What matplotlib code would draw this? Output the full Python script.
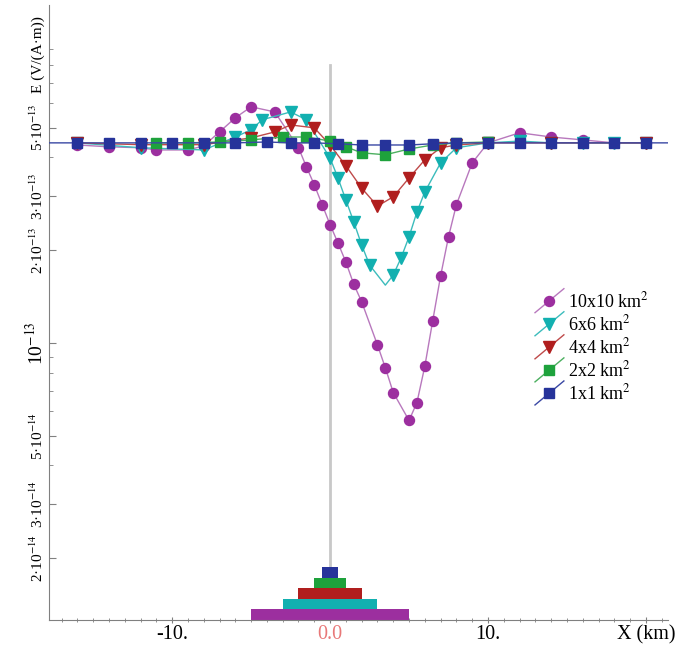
import matplotlib
matplotlib.use('Agg')
import matplotlib.pyplot as plt
from matplotlib.lines import Line2D
from matplotlib.patches import Rectangle
from matplotlib.legend_handler import HandlerBase

plt.rcParams['font.family'] = ['Liberation Serif', 'DejaVu Serif']
plt.rcParams['mathtext.fontset'] = 'stix'

# x in km, E in units of 1e-13 V/(A*m)
x_10 = [-16, -14, -12, -11, -9, -8, -7, -6, -5, -3.5, -2, -1.5, -1, -0.5, 0, 0.5, 1, 1.5, 2,
        3, 3.5, 4, 5, 5.5, 6, 6.5, 7, 7.5, 8, 9, 10, 12, 14, 16, 18, 20]
E_10 = [4.39, 4.33, 4.30, 4.23, 4.23, 4.36, 4.84, 5.38, 5.84, 5.62, 4.30, 3.73, 3.26, 2.81, 2.42,
        2.11, 1.83, 1.55, 1.36, 0.985, 0.83, 0.69, 0.56, 0.64, 0.84, 1.18, 1.65, 2.21, 2.81, 3.84,
        4.46, 4.81, 4.66, 4.56, 4.46, 4.46]

x_6 = [-16, -12, -8, -6, -5, -4.3, -2.5, -1.5, 0, 0.5, 1, 1.5, 2, 2.5, 3.5, 4, 4.5, 5, 5.5, 6,
       7, 8, 10, 12, 14, 16, 18, 20]
E_6 = [4.46, 4.30, 4.23, 4.66, 4.92, 5.30, 5.62, 5.30, 3.98, 3.43, 2.91, 2.47, 2.08, 1.79, 1.54,
       1.66, 1.89, 2.21, 2.66, 3.09, 3.84, 4.30, 4.46, 4.52, 4.46, 4.46, 4.46, 4.46]
nomark_6 = [3.5]

x_4 = [-16, -12, -8, -5, -3.5, -2.5, -1, 0, 1, 2, 3, 4, 5, 6, 7, 8, 10, 14, 20]
E_4 = [4.46, 4.40, 4.40, 4.63, 4.84, 5.10, 4.99, 4.39, 3.76, 3.18, 2.78, 2.98, 3.43, 3.93, 4.30,
       4.39, 4.46, 4.46, 4.46]

x_2 = [-11, -9, -7, -5, -3, -1.5, 0, 1, 2, 3.5, 5, 6.5, 8, 10]
E_2 = [4.46, 4.46, 4.49, 4.56, 4.66, 4.66, 4.52, 4.33, 4.14, 4.08, 4.26, 4.39, 4.46, 4.49]

x_1 = [-17.8, -16, -14, -12, -10, -8, -6, -4, -2.5, -1, 0.5, 2, 3.5, 5, 6.5, 8, 10, 12, 14, 16,
       18, 20, 21.4]
E_1 = [4.46, 4.46, 4.46, 4.46, 4.46, 4.46, 4.46, 4.49, 4.46, 4.46, 4.43, 4.39, 4.39, 4.39, 4.43,
       4.46, 4.46, 4.46, 4.46, 4.46, 4.46, 4.46, 4.46]
nomark_1 = [-17.8, 21.4]

sizes = [10, 6, 4, 2, 1]
labels = ['10x10 km$^2$', '6x6 km$^2$', '4x4 km$^2$', '2x2 km$^2$', '1x1 km$^2$']
colors = ['#9c2f9f', '#12b0b0', '#b01e1e', '#1ea23c', '#26339a']
line_colors = ['#b878bd', '#3cbcbc', '#bf4a4a', '#4cb060', '#3a48a4']
markers = ['o', 'v', 'v', 's', 's']
msizes = [7.2, 8.2, 8.2, 6.8, 6.8]

series = [(x_10, E_10, []), (x_6, E_6, nomark_6), (x_4, E_4, []), (x_2, E_2, []), (x_1, E_1, nomark_1)]

yticks = [0.2, 0.3, 0.5, 1, 2, 3, 5]
ytick_labels = ['2·10$^{-14}$', '3·10$^{-14}$', '5·10$^{-14}$', '10$^{-13}$',
                '2·10$^{-13}$', '3·10$^{-13}$', '5·10$^{-13}$']


class DiagHandler(HandlerBase):
    def create_artists(self, legend, orig, xdescent, ydescent, width, height, fontsize, trans):
        x0 = -xdescent
        y0 = -ydescent
        ln = Line2D([x0, x0 + width], [y0 - 0.45 * height, y0 + 1.45 * height],
                    color=orig.get_color(), lw=1)
        mk = Line2D([x0 + width / 2], [y0 + height / 2], marker=orig.get_marker(),
                    ms=orig.get_markersize(), color=orig.get_markerfacecolor(), ls='none')
        ln.set_transform(trans)
        mk.set_transform(trans)
        return [ln, mk]


fig = plt.figure(figsize=(6.8, 6.46), dpi=100)
ax = fig.add_axes([49 / 680, 26 / 646, 619 / 680, 615 / 646])
ax.set_yscale('log')
ax.set_xlim(-17.8, 21.4)
ax.set_ylim(0.126, 12.5)

ax.axvline(0, ymin=0, ymax=0.902, color='#c8c8c8', lw=2, zorder=1)

handles = []
for i, (xs, es, nomark) in enumerate(series):
    keep = [j for j, v in enumerate(xs) if v not in nomark]
    h, = ax.plot(xs, es, color=line_colors[i], lw=1, marker=markers[i], ms=msizes[i],
                 mfc=colors[i], mec=colors[i], markevery=keep, zorder=3 + i, label=labels[i])
    handles.append(h)

# source bodies drawn as stacked blocks above the x axis
row_h = 0.0172
for i, s in enumerate(sizes):
    ax.add_patch(Rectangle((-s / 2, i * row_h), s, row_h, transform=ax.get_xaxis_transform(),
                           facecolor=colors[i], edgecolor='none', zorder=2))

ax.legend(handles=handles, handler_map={Line2D: DiagHandler()}, frameon=False,
          loc='upper left', bbox_to_anchor=(535 / 680, 1 - 291 / 646),
          bbox_transform=fig.transFigure, fontsize=13, handlelength=1.6,
          handletextpad=0.2, labelspacing=0.17, borderpad=0, borderaxespad=0)

for sp in ['top', 'right']:
    ax.spines[sp].set_visible(False)
for sp in ['left', 'bottom']:
    ax.spines[sp].set_color('#808080')

ax.set_xticks([-10, 0, 10, 20])
ax.set_xticklabels(['-10.', '0.0', '10.', 'X (km)'], fontsize=14.5)
ax.get_xticklabels()[1].set_color('#e87878')

ax.set_yticks(yticks)
ax.set_yticklabels(ytick_labels)
ax.minorticks_on()
ax.set_xticks(range(-17, 22), minor=True)
ax.tick_params(axis='x', which='major', direction='inout', length=5, color='#808080', pad=1)
ax.tick_params(axis='x', which='minor', direction='inout', length=3, color='#808080')
ax.tick_params(axis='y', which='major', direction='in', length=5, color='#808080', pad=2)
ax.tick_params(axis='y', which='minor', direction='in', length=3, color='#808080')
for t in ax.get_yticklabels():
    t.set_rotation(90)
    t.set_va('center')
    t.set_fontsize(14 if t.get_text() == '10$^{-13}$' else 11)

fig.text(38 / 680, 1 - 55 / 646, 'E (V/(A·m))', rotation=90, ha='center', va='center', fontsize=11)

fig.savefig('out.png', dpi=100)
